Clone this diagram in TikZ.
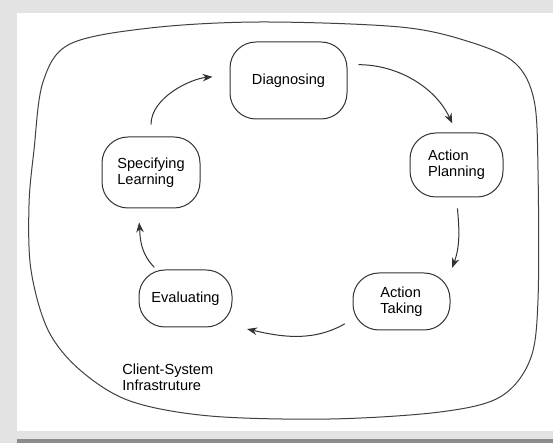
\documentclass[tikz,border=0pt]{standalone}
\usepackage{fontspec}
\setmainfont{Liberation Sans}
\usetikzlibrary{arrows.meta}

\begin{document}
\begin{tikzpicture}[x=0.5pt, y=0.5pt,
    every node/.style={font=\fontsize{7.3}{8.1}\selectfont, align=left},
    stage/.style={draw=black!80, line width=0.5pt, rounded corners=13pt, inner sep=0pt},
    flow/.style={draw=black!80, line width=0.5pt, -{Stealth[length=5pt,width=3.8pt]}}]
    \useasboundingbox (0,0) rectangle (553,-443);
    \fill[black!11] (0,0) rectangle (553,-443);
    \fill[white] (17,-13) rectangle (553,-431);
    \fill[black!45] (17,-439) rectangle (553,-443);
    \draw[black!75, line width=0.5pt] plot[smooth cycle, tension=0.55] coordinates {
        (34,-150) (43,-82) (70,-44) (150,-28) (260,-22) (400,-27) (470,-42)
        (515,-63) (534,-100) (538,-170) (538,-300) (530,-360) (500,-397)
        (440,-412) (330,-419) (210,-416) (130,-401) (80,-370) (48,-330)
        (31,-270) (29,-205)};
    \node[stage, minimum width=58.5pt, minimum height=38.5pt] (diag) at (288.5,-80.5) {Diagnosing};
    \node[stage, minimum width=46.5pt, minimum height=32pt] (plan) at (456.5,-165) {Action\\Planning};
    \node[stage, minimum width=48.5pt, minimum height=28.5pt] (take) at (401.5,-301.5) {Action\\Taking};
    \node[stage, minimum width=46.5pt, minimum height=28.5pt] (eval) at (185.5,-298.5) {Evaluating};
    \node[stage, minimum width=49pt, minimum height=35.5pt] (spec) at (151,-172.5) {Specifying\\Learning};
    \node[anchor=west, inner sep=0pt] (csi) at (122,-377.5) {Client-System\\Infrastruture};
    \foreach \a/\b/\o/\i/\s/\e in {spec.north/diag.175/90/185/6/8.5,
                                  diag.15/plan.north/0/115/5.5/5,
                                  plan.south/take.north east/-85/70/5.5/2.5,
                                  take.200/eval.-30/210/-13/4.5/7.5,
                                  eval.135/spec.-110/135/-85/1.5/7}
        \draw[flow, shorten <=\s pt, shorten >=\e pt] (\a) to[out=\o, in=\i] (\b);
\end{tikzpicture}
\end{document}
